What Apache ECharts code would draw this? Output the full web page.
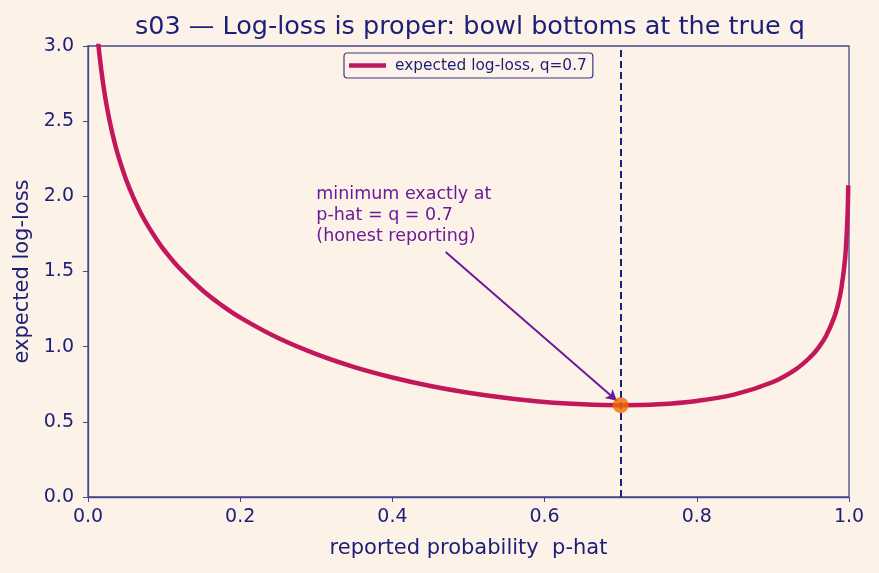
<!DOCTYPE html>
<html>
<head>
<meta charset="utf-8">
<script src="https://cdn.jsdelivr.net/npm/echarts@6/dist/echarts.min.js"></script>
<style>
  html, body { margin: 0; padding: 0; background: #fdf2e8; }
  #chart { width: 879px; height: 573px; }
</style>
</head>
<body>
<div id="chart"></div>
<script>
// reported probability p-hat and the expected log-loss (q = 0.7)
var pHat = [0.005, 0.007, 0.01, 0.012, 0.015, 0.02, 0.025, 0.03, 0.035, 0.04, 0.05, 0.06, 0.07,
  0.08, 0.09, 0.1, 0.12, 0.15, 0.175, 0.2, 0.25, 0.3, 0.35, 0.4, 0.45, 0.5, 0.55, 0.6, 0.65,
  0.7, 0.75, 0.8, 0.85, 0.9, 0.93, 0.95, 0.96, 0.97, 0.98, 0.985, 0.99, 0.995, 0.998, 0.999];
var logLoss = [3.710, 3.475, 3.227, 3.100, 2.944, 2.745, 2.590, 2.464, 2.357, 2.265, 2.112, 1.988, 1.883,
  1.793, 1.714, 1.643, 1.523, 1.377, 1.278, 1.194, 1.057, 0.950, 0.864, 0.795, 0.738, 0.693, 0.658, 0.632, 0.617,
  0.611, 0.617, 0.639, 0.683, 0.765, 0.849, 0.935, 0.994, 1.073, 1.188, 1.270, 1.389, 1.593, 1.866, 2.073];

var trueQ = 0.7;
var minLoss = 0.611;

var noteLines = ["minimum exactly at", "p-hat = q = 0.7", "(honest reporting)"];
var noteAt = [0.3, 2.08];
var arrowFrom = [0.470, 1.63];
var arrowTo = [0.695, 0.64];

var navy = "#1c1f78";
var frame = "#46478c";

var chart = echarts.init(document.getElementById("chart"));

var curve = pHat.map(function (p, i) { return [p, logLoss[i]]; });

chart.setOption({
  backgroundColor: "#fdf2e8",
  animation: false,
  title: {
    text: "s03 — Log-loss is proper: bowl bottoms at the true q",
    left: 465,
    textAlign: "center",
    top: 9,
    textStyle: { color: navy, fontSize: 25.5, fontWeight: "normal", fontFamily: "DejaVu Sans" }
  },
  legend: {
    data: ["expected log-loss, q=0.7"],
    left: 344,
    top: 53,
    itemWidth: 37,
    itemHeight: 4.5,
    icon: "rect",
    padding: [5, 6, 5, 5],
    borderColor: "#3a3b82",
    borderWidth: 1.2,
    borderRadius: 3,
    backgroundColor: "#fdf3ea",
    textStyle: { color: navy, fontSize: 15.4, fontFamily: "DejaVu Sans", padding: [0, 0, 0, 4] }
  },
  grid: {
    left: 88, right: 30, top: 46, bottom: 76,
    show: true, borderColor: frame, borderWidth: 1.3, backgroundColor: "transparent"
  },
  xAxis: {
    type: "value", min: 0, max: 1, interval: 0.2,
    name: "reported probability  p-hat",
    nameLocation: "middle", nameGap: 41,
    nameTextStyle: { color: navy, fontSize: 21, fontFamily: "DejaVu Sans" },
    axisLine: { show: true, lineStyle: { color: frame, width: 1.3 } },
    axisTick: { show: true, length: 5, lineStyle: { color: frame } },
    splitLine: { show: false },
    axisLabel: {
      color: navy, fontSize: 19, margin: 11, fontFamily: "DejaVu Sans",
      formatter: function (v) { return v.toFixed(1); }
    }
  },
  yAxis: {
    type: "value", min: 0, max: 3, interval: 0.5,
    name: "expected log-loss",
    nameLocation: "middle", nameGap: 55, nameRotate: 90,
    nameTextStyle: { color: navy, fontSize: 21, fontFamily: "DejaVu Sans" },
    axisLine: { show: true, lineStyle: { color: frame, width: 1.3 } },
    axisTick: { show: true, length: 5, lineStyle: { color: frame } },
    splitLine: { show: false },
    axisLabel: {
      color: navy, fontSize: 19, margin: 14, fontFamily: "DejaVu Sans",
      formatter: function (v) { return v.toFixed(1); }
    }
  },
  series: [
    {
      name: "expected log-loss, q=0.7",
      type: "line",
      data: curve,
      smooth: 0.4,
      showSymbol: false,
      clip: true,
      color: "#c2185b",
      lineStyle: { color: "#c2185b", width: 4.5 },
      markLine: {
        silent: true,
        symbol: "none",
        label: { show: false },
        lineStyle: { color: navy, width: 2, type: [7, 4] },
        data: [{ xAxis: trueQ }]
      },
      z: 3
    },
    {
      name: "arrow",
      type: "line",
      data: [],
      markLine: {
        silent: true,
        symbol: ["none", "arrow"],
        symbolSize: [9, 11],
        label: { show: false },
        lineStyle: { color: "#6a1b9a", width: 2, type: "solid" },
        data: [[{ coord: arrowFrom }, { coord: arrowTo }]]
      },
      z: 4
    },
    {
      name: "minimum",
      type: "scatter",
      data: [[trueQ, minLoss]],
      symbolSize: 16,
      itemStyle: { color: "#ef6c00" },
      z: 5
    }
  ]
});

var notePos = chart.convertToPixel({ gridIndex: 0 }, noteAt);
chart.setOption({
  graphic: [{
    type: "text",
    x: notePos[0],
    y: notePos[1],
    style: {
      text: noteLines.join("\n"),
      fill: "#6a1b9a",
      fontSize: 17.5,
      lineHeight: 21,
      fontFamily: "DejaVu Sans",
      textAlign: "left",
      textVerticalAlign: "top"
    },
    z: 10
  }]
});
</script>
</body>
</html>
